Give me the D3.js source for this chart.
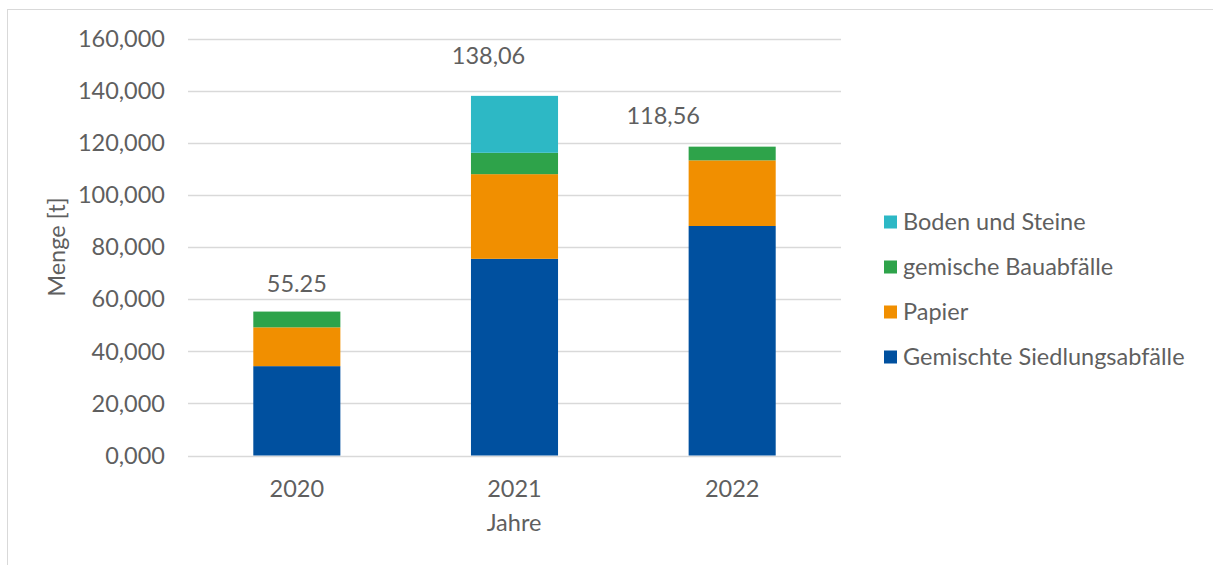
<!DOCTYPE html>
<html><head><meta charset="utf-8">
<script src="https://cdn.jsdelivr.net/npm/d3@7"></script>
<style>body{margin:0;background:#fff}svg{display:block}text{font-family:Lato,"Open Sans",sans-serif;font-weight:400;fill:#5f5f5f}</style>
</head><body>
<script>
const years = ["2020","2021","2022"];
const seriesNames = ["Gemischte Siedlungsabfälle","Papier","gemische Bauabfälle","Boden und Steine"];
const siedlung = [34.3, 75.5, 88.1];
const papier = [14.9, 32.5, 25.2];
const bau = [6.05, 8.2, 5.26];
const boden = [0, 21.86, 0];
const totalLabels = ["55.25","138,06","118,56"];
const totals = [55.25, 138.06, 118.56];
const yTicks = [0,20,40,60,80,100,120,140,160];
const yTickLabels = ["0,000","20,000","40,000","60,000","80,000","100,000","120,000","140,000","160,000"];
const colors = ["#00509F","#F18F00","#2EA34A","#2DB8C5"];

const W=1213,H=565, FS="23.5px";
const svg=d3.select("body").append("svg").attr("width",W).attr("height",H);
svg.append("rect").attr("x",7.5).attr("y",9.5).attr("width",W).attr("height",H).attr("fill","none").attr("stroke","#d9d9d9");

const x=d3.scaleBand().domain(years).range([188,841]).paddingInner(0.6).paddingOuter(0.3);
const y=d3.scaleLinear().domain([0,160]).range([455.5,38.7]);

const g=svg.append("g");
g.selectAll("line.grid").data(yTicks).join("line").attr("x1",188).attr("x2",841)
 .attr("y1",d=>Math.round(y(d))+0.5).attr("y2",d=>Math.round(y(d))+0.5).attr("stroke","#d9d9d9").attr("stroke-width",1.3);
g.selectAll("text.yt").data(yTicks).join("text").attr("x",165).attr("y",d=>y(d)).attr("dy","0.35em")
 .attr("text-anchor","end").style("font-size",FS).text((d,i)=>yTickLabels[i]);

const data=years.map((yr,i)=>({yr,Gemischte:siedlung[i],Papier:papier[i],Bau:bau[i],Boden:boden[i]}));
const stack=d3.stack().keys(["Gemischte","Papier","Bau","Boden"])(data);
stack.forEach((s,k)=>{
  g.selectAll(null).data(s).join("rect").attr("x",d=>x(d.data.yr)).attr("width",x.bandwidth())
   .attr("y",d=>y(d[1])).attr("height",d=>Math.max(0,y(d[0])-y(d[1]))).attr("fill",colors[k]);
});

const labelOffsets=[[0,-28],[-26,-40],[-69,-31]];
g.selectAll("text.tot").data(years).join("text")
 .attr("x",(d,i)=>x(d)+x.bandwidth()/2+labelOffsets[i][0]).attr("y",(d,i)=>y(totals[i])+labelOffsets[i][1])
 .attr("text-anchor","middle").attr("dy","0.35em").style("font-size",FS).text((d,i)=>totalLabels[i]);

g.selectAll("text.xt").data(years).join("text").attr("x",d=>x(d)+x.bandwidth()/2).attr("y",489).attr("dy","0.35em")
 .attr("text-anchor","middle").style("font-size",FS).text(d=>d);

svg.append("text").attr("x",514).attr("y",523).attr("dy","0.35em").attr("text-anchor","middle").style("font-size",FS).text("Jahre");
svg.append("text").attr("transform","translate(57,247) rotate(-90)").attr("dy","0.35em").attr("text-anchor","middle").style("font-size",FS).text("Menge [t]");

const legY=d3.scalePoint().domain(seriesNames.slice().reverse()).range([222,357]);
const leg=svg.append("g");
seriesNames.forEach((n,k)=>{
  leg.append("rect").attr("x",884).attr("y",legY(n)-6.5).attr("width",13).attr("height",13).attr("fill",colors[k]);
  leg.append("text").attr("x",903).attr("y",legY(n)).attr("dy","0.35em").style("font-size",FS).text(n);
});
</script>
</body></html>
